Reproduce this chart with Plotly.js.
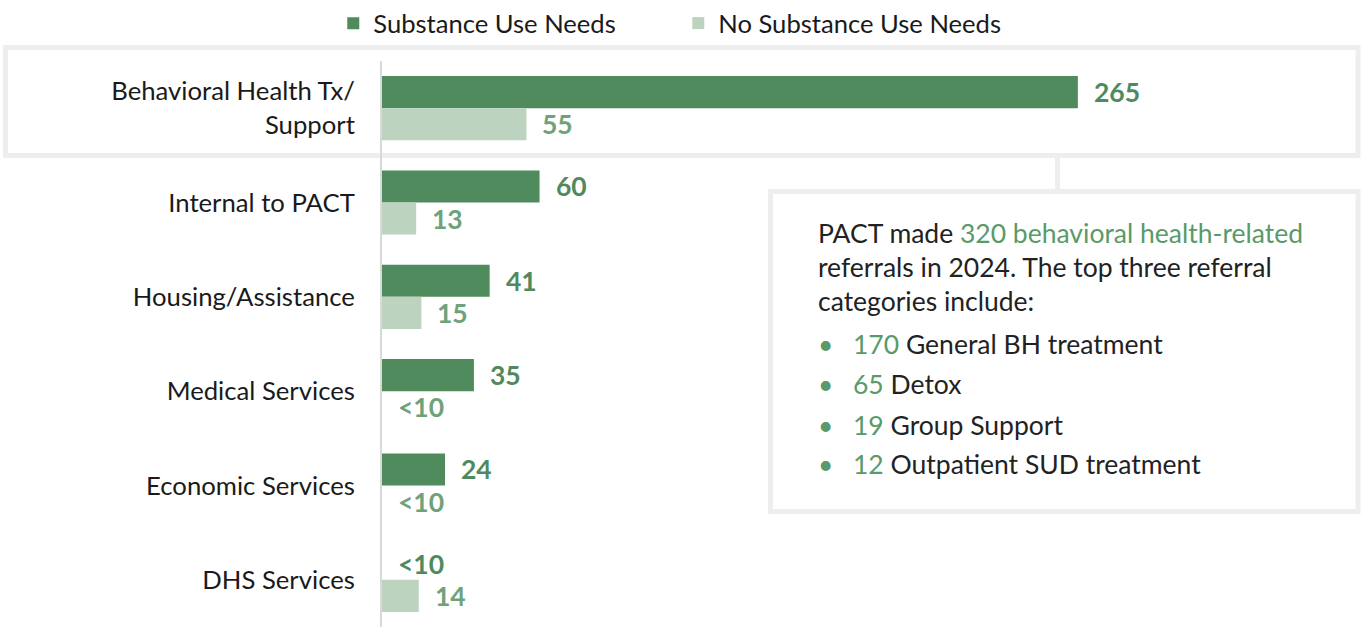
<!DOCTYPE html>
<html>
<head>
<meta charset="utf-8">
<script src="https://cdn.plot.ly/plotly-3.0.1.min.js"></script>
<style>html,body{margin:0;padding:0;background:#fff;}#chart{width:1362px;height:628px;}</style>
</head>
<body>
<div id="chart"></div>
<script>
// ---- data ----
const categories = ["Behavioral Health Tx/<br>Support", "Internal to PACT", "Housing/Assistance", "Medical Services", "Economic Services", "DHS Services"];
const substanceValues = [265, 60, 41, 35, 24, null];
const substanceLabels = ["265", "60", "41", "35", "24", "<10"];
const noSubstanceValues = [55, 13, 15, null, null, 14];
const noSubstanceLabels = ["55", "13", "15", "<10", "<10", "14"];
const seriesNames = ["Substance Use Needs", "No Substance Use Needs"];
const calloutLines = [
  "PACT made <span style='color:#5a9a68'>320 behavioral health-related</span>",
  "referrals in 2024. The top three referral",
  "categories include:"
];
const bulletNumbers = ["170", "65", "19", "12"];
const bulletTexts = ["General BH treatment", "Detox", "Group Support", "Outpatient SUD treatment"];

// ---- styling / geometry ----
const W = 1362, H = 628;
const L = 382, R = 0, T = 61, B = 1;
const pw = W - L - R, ph = H - T - B;
const px = x => (x - L) / pw;
const py = y => (H - B - y) / ph;
const FONT = "Lato, 'Open Sans', sans-serif";
const darkGreen = "#508b5e", lightGreen = "#bcd3bf";
const darkLabel = "#4f8a5e", lightLabel = "#6ea27a";
const boxGray = "#eeeeee";

const traces = [
  {type: "bar", orientation: "h", name: seriesNames[0], y: categories, x: substanceValues,
   marker: {color: darkGreen}, hoverinfo: "skip"},
  {type: "bar", orientation: "h", name: seriesNames[1], y: categories, x: noSubstanceValues,
   marker: {color: lightGreen}, hoverinfo: "skip"}
];

const annotations = [];
const off = 0.17;
categories.forEach((c, i) => {
  annotations.push({xref: "x", yref: "y", x: substanceValues[i] || 0, y: i - off, text: substanceLabels[i],
    showarrow: false, xanchor: "left", yanchor: "middle", xshift: 14,
    font: {family: FONT, size: 26.5, color: darkLabel, weight: 700}});
  annotations.push({xref: "x", yref: "y", x: noSubstanceValues[i] || 0, y: i + off, text: noSubstanceLabels[i],
    showarrow: false, xanchor: "left", yanchor: "middle", xshift: 14,
    font: {family: FONT, size: 26.5, color: lightLabel, weight: 700}});
});
// callout text
const CF = 26.5;
const lineY = [233, 267, 301];
calloutLines.forEach((t, i) => {
  annotations.push({xref: "paper", yref: "paper", x: px(816), y: py(lineY[i]), text: t, showarrow: false,
    xanchor: "left", yanchor: "middle", font: {family: FONT, size: CF, color: "#222222"}});
});
const bulletY = [344, 384, 425, 464];
bulletNumbers.forEach((n, i) => {
  annotations.push({xref: "paper", yref: "paper", x: px(816), y: py(bulletY[i]), text: "•", showarrow: false,
    xanchor: "left", yanchor: "middle", font: {family: FONT, size: CF, color: "#5a9a68"}});
  annotations.push({xref: "paper", yref: "paper", x: px(851), y: py(bulletY[i]),
    text: "<span style='color:#5a9a68'>" + n + "</span> " + bulletTexts[i], showarrow: false,
    xanchor: "left", yanchor: "middle", font: {family: FONT, size: CF, color: "#222222"}});
});

const shapes = [
  {type: "rect", xref: "paper", yref: "paper", x0: px(5.5), x1: px(1358), y0: py(47.5), y1: py(155.5),
   line: {color: boxGray, width: 5}, fillcolor: "rgba(0,0,0,0)", layer: "below"},
  {type: "line", xref: "paper", yref: "paper", x0: px(1057.5), x1: px(1057.5), y0: py(155.5), y1: py(191.5),
   line: {color: boxGray, width: 5}},
  {type: "rect", xref: "paper", yref: "paper", x0: px(770.5), x1: px(1358), y0: py(191.5), y1: py(511.5),
   line: {color: boxGray, width: 5}, fillcolor: "#ffffff", layer: "above"}
];

const layout = {
  width: W, height: H,
  margin: {l: L, r: R, t: T, b: B, pad: 0},
  paper_bgcolor: "#ffffff", plot_bgcolor: "rgba(0,0,0,0)",
  barmode: "group", bargap: 0.32, bargroupgap: 0,
  font: {family: FONT, size: 25.7, color: "#1a1a1a"},
  xaxis: {range: [0, 373.2], visible: false, fixedrange: true},
  yaxis: {type: "category", autorange: "reversed", showline: true, linecolor: "#d9d9d9", linewidth: 2,
          ticks: "", showgrid: false, zeroline: false, automargin: false, ticklabelstandoff: 20,
          tickfont: {family: FONT, size: 25.7, color: "#1a1a1a"}, fixedrange: true},
  showlegend: true,
  legend: {orientation: "h", xref: "container", yref: "container", x: 0.498, xanchor: "center",
           y: 1, yanchor: "top", font: {family: FONT, size: 25.6, color: "#1a1a1a"},
           bgcolor: "rgba(0,0,0,0)",
           traceorder: "normal", itemwidth: 30, entrywidth: 300, entrywidthmode: "pixels"},
  annotations: annotations,
  shapes: shapes
};

Plotly.newPlot("chart", traces, layout, {displayModeBar: false, staticPlot: true});
</script>
</body>
</html>
